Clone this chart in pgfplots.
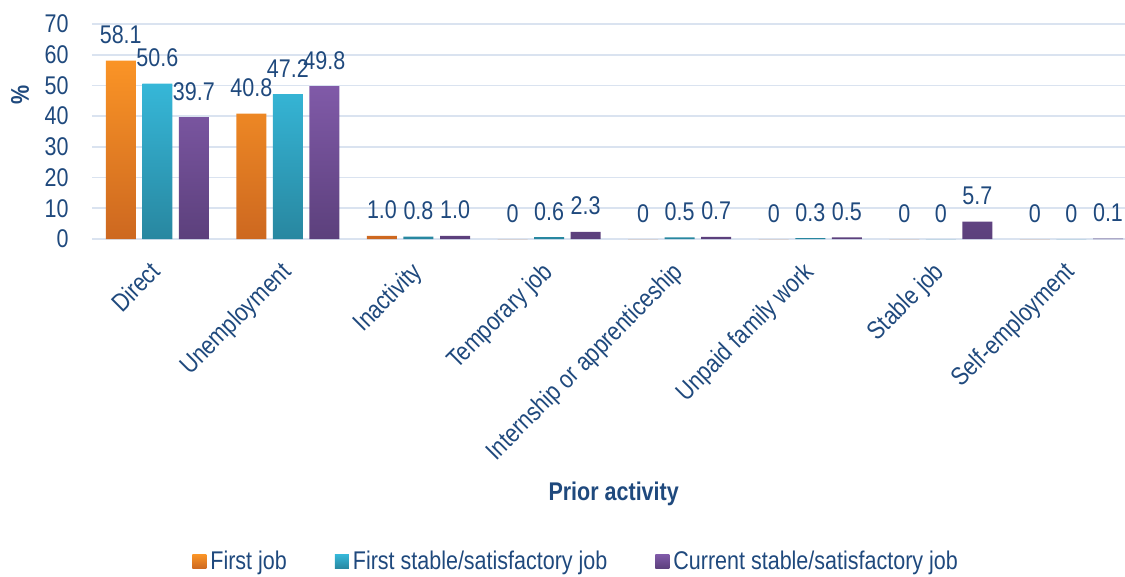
\documentclass[border=0pt]{standalone}
\usepackage{pgfplots}
\pgfplotsset{compat=1.18}
\usepackage{fontspec}
\setmainfont{Liberation Sans}[FakeStretch=0.84]
\definecolor{txt}{RGB}{31,73,125}
\definecolor{gridc}{RGB}{218,227,240}
\definecolor{orT}{RGB}{250,148,38}
\definecolor{orB}{RGB}{205,104,32}
\definecolor{cyT}{RGB}{54,183,216}
\definecolor{cyB}{RGB}{40,135,160}
\definecolor{puT}{RGB}{128,90,168}
\definecolor{puB}{RGB}{92,64,124}
\newcommand\lbl{\fontsize{19.2}{22}\selectfont}
\begin{document}
\begin{tikzpicture}
\useasboundingbox (-69pt,-252.75pt) rectangle (774.75pt,179.25pt);
\begin{axis}[
  at={(0pt,0pt)}, anchor=south west,
  scale only axis, width=774.75pt, height=161.25pt,
  xmin=-0.5, xmax=7.41, ymin=0, ymax=70,
  ybar=4.9pt, bar width=22.5pt,
  axis line style={draw=none},
  major tick length=0pt,
  ymajorgrids, grid style={draw=gridc, line width=1.2pt},
  ytick={0,10,...,70},
  xtick={0,...,7},
  xticklabels={Direct,Unemployment,Inactivity,Temporary job,Internship or apprenticeship,Unpaid family work,Stable job,Self-employment},
  xticklabel style={xshift=-6.5pt, yshift=-13pt, rotate=45, anchor=north east, font=\lbl, text=txt, inner sep=2pt},
  yticklabel style={font=\lbl, text=txt, xshift=-14pt},
  /pgf/number format/assume math mode=true,
  xlabel={Prior activity},
  xlabel style={at={(axis description cs:0.505,-1.185)}, anchor=center, font=\lbl\bfseries, text=txt},
  ylabel={\%},
  ylabel style={at={(axis description cs:-0.0697,0.67)}, anchor=center, font=\lbl\bfseries, text=txt},
  point meta=explicit symbolic,
  nodes near coords,
  every node near coord/.append style={font=\lbl, text=txt, yshift=9pt},
  legend style={at={(axis description cs:0.469,-1.50)}, anchor=center, draw=none, fill=none,
    legend columns=3, font=\lbl, text=txt,
    /tikz/every odd column/.append style={column sep=1pt},
    /tikz/every even column/.append style={column sep=34pt}},
  legend image code/.code={\path[#1,draw=none] (0pt,-5.25pt) rectangle (10.5pt,5.25pt);},
  clip=false,
]
\addplot[draw=none, top color=orT, bottom color=orB] coordinates {
 (0,58.1)[58.1] (1,40.8)[40.8] (2,1.0)[1.0] (3,0)[0] (4,0)[0] (5,0)[0] (6,0)[0] (7,0)[0]};
\addplot[draw=none, top color=cyT, bottom color=cyB] coordinates {
 (0,50.6)[50.6] (1,47.2)[47.2] (2,0.8)[0.8] (3,0.6)[0.6] (4,0.5)[0.5] (5,0.3)[0.3] (6,0)[0] (7,0)[0]};
\addplot[draw=none, top color=puT, bottom color=puB] coordinates {
 (0,39.7)[39.7] (1,49.8)[49.8] (2,1.0)[1.0] (3,2.3)[2.3] (4,0.7)[0.7] (5,0.5)[0.5] (6,5.7)[5.7] (7,0.1)[0.1]};
\legend{First job,First stable/satisfactory job,Current stable/satisfactory job}
\end{axis}
\end{tikzpicture}
\end{document}
